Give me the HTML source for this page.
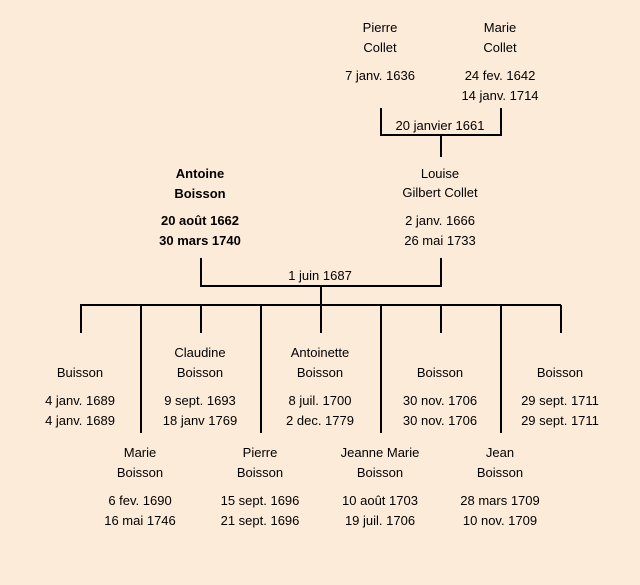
<!DOCTYPE html>
<html><head><meta charset="utf-8"><style>
html,body{margin:0;padding:0;background:#fdebd9;}
svg{display:block;}
text{font-family:"Liberation Sans",sans-serif;font-size:13px;fill:#000;text-anchor:middle;}
.b{font-weight:bold;}
</style></head><body>
<svg width="640" height="585" viewBox="0 0 640 585">
<rect width="640" height="585" fill="#fdebd9"/>
<g stroke="#000" stroke-width="2" fill="none">
<path d="M381 108V135H501V108M441 135V157"/>
<path d="M201 258V286H441V258M321 286V305"/>
<path d="M80 305H561"/>
<path d="M81 305V333M201 305V333M321 305V333M441 305V333M561 305V333"/>
<path d="M141 305V433M261 305V433M381 305V433M501 305V433"/>
</g>
<g>
<text x="380" y="32">Pierre</text><text x="380" y="52">Collet</text><text x="380" y="80">7 janv. 1636</text>
<text x="500" y="32">Marie</text><text x="500" y="52">Collet</text><text x="500" y="80">24 fev. 1642</text><text x="500" y="100">14 janv. 1714</text>
<text x="440" y="130">20 janvier 1661</text>
<text class="b" x="200" y="178">Antoine</text><text class="b" x="200" y="198">Boisson</text><text class="b" x="200" y="225">20 août 1662</text><text class="b" x="200" y="245">30 mars 1740</text>
<text x="440" y="178">Louise</text><text x="440" y="197">Gilbert Collet</text><text x="440" y="225">2 janv. 1666</text><text x="440" y="245">26 mai 1733</text>
<text x="320" y="280">1 juin 1687</text>

<text x="80" y="377">Buisson</text><text x="80" y="405">4 janv. 1689</text><text x="80" y="425">4 janv. 1689</text>
<text x="200" y="357">Claudine</text><text x="200" y="377">Boisson</text><text x="200" y="405">9 sept. 1693</text><text x="200" y="425">18 janv 1769</text>
<text x="320" y="357">Antoinette</text><text x="320" y="377">Boisson</text><text x="320" y="405">8 juil. 1700</text><text x="320" y="425">2 dec. 1779</text>
<text x="440" y="377">Boisson</text><text x="440" y="405">30 nov. 1706</text><text x="440" y="425">30 nov. 1706</text>
<text x="560" y="377">Boisson</text><text x="560" y="405">29 sept. 1711</text><text x="560" y="425">29 sept. 1711</text>

<text x="140" y="457">Marie</text><text x="140" y="477">Boisson</text><text x="140" y="505">6 fev. 1690</text><text x="140" y="525">16 mai 1746</text>
<text x="260" y="457">Pierre</text><text x="260" y="477">Boisson</text><text x="260" y="505">15 sept. 1696</text><text x="260" y="525">21 sept. 1696</text>
<text x="380" y="457">Jeanne Marie</text><text x="380" y="477">Boisson</text><text x="380" y="505">10 août 1703</text><text x="380" y="525">19 juil. 1706</text>
<text x="500" y="457">Jean</text><text x="500" y="477">Boisson</text><text x="500" y="505">28 mars 1709</text><text x="500" y="525">10 nov. 1709</text>
</g>
</svg>
</body></html>
